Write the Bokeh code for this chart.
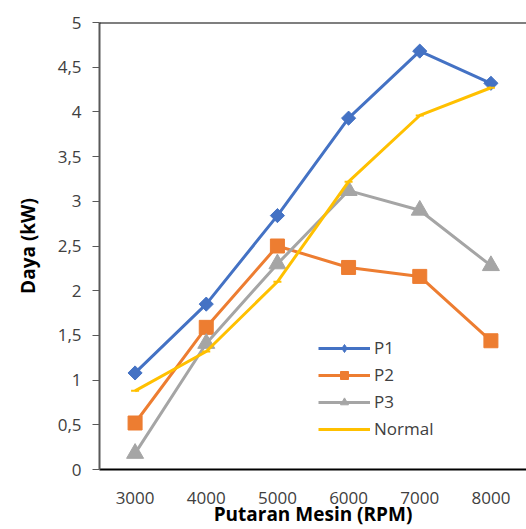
import numpy as np
from bokeh.plotting import figure
from bokeh.models import FactorRange, Range1d, FixedTicker, Legend, LegendItem, Span
from bokeh.embed import file_html
from bokeh.resources import INLINE

rpm = ["3000", "4000", "5000", "6000", "7000", "8000"]
p1 = [1.08, 1.85, 2.84, 3.93, 4.68, 4.32]
p2 = [0.52, 1.59, 2.50, 2.26, 2.16, 1.44]
p3 = [0.18, 1.41, 2.30, 3.12, 2.90, 2.28]
normal = [0.88, 1.32, 2.10, 3.22, 3.96, 4.27]
y_ticks = [0, 0.5, 1, 1.5, 2, 2.5, 3, 3.5, 4, 4.5, 5]
y_tick_labels = ["0", "0,5", "1", "1,5", "2", "2,5", "3", "3,5", "4", "4,5", "5"]

FONT = "Open Sans"

p = figure(width=526, height=529, x_range=FactorRange(*rpm, range_padding=0),
           y_range=Range1d(0, 5), output_backend="svg", toolbar_location=None,
           min_border_left=99, min_border_top=22, min_border_bottom=60, min_border_right=0)
p.x_range.factor_padding = 0
p.grid.visible = False
p.outline_line_color = None
p.background_fill_color = "white"

r1 = p.line(rpm, p1, line_color="#4472C4", line_width=3)
leg1 = p.scatter(rpm, p1, marker="diamond", size=12, color="#4472C4")
m1 = p.scatter(rpm, p1, marker="square", angle=np.pi / 4, size=10, color="#4472C4")
r2 = p.line(rpm, p2, line_color="#ED7D31", line_width=3)
m2 = p.scatter(rpm, p2, marker="square", size=14, color="#ED7D31")
r3 = p.line(rpm, p3, line_color="#A5A5A5", line_width=3)
m3 = p.scatter(rpm, p3, marker="triangle", size=17, color="#A5A5A5")
r4 = p.line(rpm, normal, line_color="#FFC000", line_width=3)
m4 = p.scatter(rpm, normal, marker="dash", size=8, line_color="#FFC000", line_width=2)

p.add_layout(Span(location=5, dimension="width", line_color="black", line_width=2))

p.yaxis.ticker = FixedTicker(ticks=y_ticks)
p.yaxis.major_label_overrides = {t: l for t, l in zip(y_ticks, y_tick_labels)}
p.yaxis.axis_line_color = "#595959"
p.yaxis.axis_line_width = 2
p.yaxis.major_tick_line_color = "#595959"
p.yaxis.major_tick_out = 7
p.yaxis.major_tick_in = 0
p.yaxis.minor_tick_line_color = None
p.yaxis.major_label_text_font = FONT
p.yaxis.major_label_text_font_size = "17px"
p.yaxis.major_label_text_color = "#404040"
p.yaxis.major_label_standoff = 11
p.yaxis.axis_label = "Daya (kW)"
p.yaxis.axis_label_text_font = FONT
p.yaxis.axis_label_text_font_style = "bold"
p.yaxis.axis_label_text_font_size = "19px"
p.yaxis.axis_label_text_color = "black"
p.yaxis.axis_label_standoff = 14

p.xaxis.axis_line_color = "black"
p.xaxis.axis_line_width = 2
p.xaxis.major_tick_line_color = None
p.xaxis.minor_tick_line_color = None
p.xaxis.major_label_text_font = FONT
p.xaxis.major_label_text_font_size = "17px"
p.xaxis.major_label_text_color = "#404040"
p.xaxis.major_label_standoff = 16
p.xaxis.axis_label = "Putaran Mesin (RPM)"
p.xaxis.axis_label_text_font = FONT
p.xaxis.axis_label_text_font_style = "bold"
p.xaxis.axis_label_text_font_size = "19px"
p.xaxis.axis_label_text_color = "black"
p.xaxis.axis_label_standoff = -6

legend = Legend(items=[
    LegendItem(label="P1", renderers=[r1, leg1]),
    LegendItem(label="P2", renderers=[r2, m2]),
    LegendItem(label="P3", renderers=[r3, m3]),
    LegendItem(label="Normal", renderers=[r4]),
], location=(219, 29))
legend.border_line_color = None
legend.background_fill_alpha = 0
legend.glyph_width = 52
legend.label_text_font = FONT
legend.label_text_font_size = "17px"
legend.label_text_color = "#404040"
legend.label_standoff = 4
legend.spacing = 4
legend.padding = 10
p.add_layout(legend)

open("out.html", "w").write(file_html(p, INLINE))
